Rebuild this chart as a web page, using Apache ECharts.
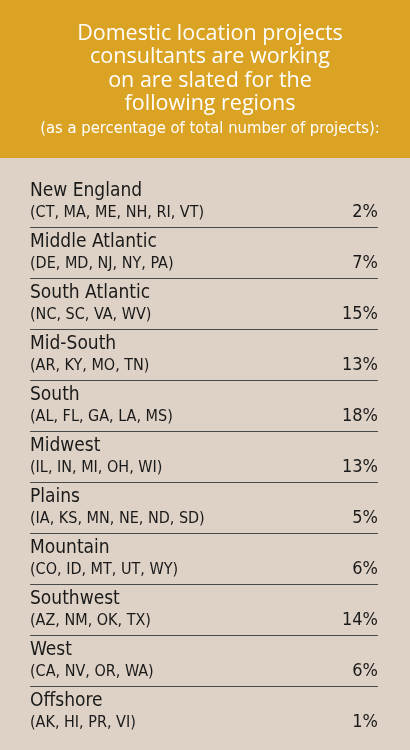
<!DOCTYPE html>
<html>
<head>
<meta charset="utf-8">
<script src="https://cdn.jsdelivr.net/npm/echarts@6/dist/echarts.min.js"></script>
<style>
html, body { margin: 0; padding: 0; background: #fff; }
#main { width: 410px; height: 750px; }
</style>
</head>
<body>
<div id="main"></div>
<script>
// regions, states and share of projects
var regions = ['New England', 'Middle Atlantic', 'South Atlantic', 'Mid-South', 'South', 'Midwest',
    'Plains', 'Mountain', 'Southwest', 'West', 'Offshore'];
var states = ['(CT, MA, ME, NH, RI, VT)', '(DE, MD, NJ, NY, PA)', '(NC, SC, VA, WV)', '(AR, KY, MO, TN)',
    '(AL, FL, GA, LA, MS)', '(IL, IN, MI, OH, WI)', '(IA, KS, MN, NE, ND, SD)', '(CO, ID, MT, UT, WY)',
    '(AZ, NM, OK, TX)', '(CA, NV, OR, WA)', '(AK, HI, PR, VI)'];
var shares = [2, 7, 15, 13, 18, 13, 5, 6, 14, 6, 1];

var font = '"Liberation Sans Narrow", "DejaVu Sans Condensed", sans-serif';
var bg = '#DED2C6';
var myChart = echarts.init(document.getElementById('main'));

var option = {
    backgroundColor: bg,
    graphic: [{
        type: 'rect', z: -1,
        shape: { x: 0, y: 0, width: 410, height: 158 },
        style: { fill: '#DBA324' }
    }, {
        // hide the bottom boundary line
        type: 'rect', z: 100,
        shape: { x: 0, y: 735, width: 410, height: 15 },
        style: { fill: bg }
    }],
    title: {
        text: 'Domestic location projects\nconsultants are working\non are slated for the\nfollowing regions',
        subtext: '(as a percentage of total number of projects):',
        left: 205, top: 17, itemGap: 4,
        textAlign: 'center',
        textStyle: { color: '#fff', fontSize: 21.5, fontWeight: 'normal', lineHeight: 23.5, fontFamily: '"Open Sans", sans-serif' },
        subtextStyle: { color: '#fff', fontSize: 16.5, fontFamily: font }
    },
    grid: { left: 30, right: 32, top: 176, height: 561 },
    xAxis: { type: 'value', show: false, max: 100 },
    yAxis: [{
        type: 'category', inverse: true, data: regions,
        axisLine: { show: false }, axisTick: { show: false },
        splitLine: {
            show: true,
            interval: function (i) { return i > 0; },
            lineStyle: { color: '#4a4a4a', width: 1 }
        },
        axisLabel: {
            inside: true, margin: 0,
            formatter: function (v, i) { return '{n|' + v + '}\n{s|' + states[i] + '}'; },
            rich: {
                n: { fontSize: 19, color: '#1a1a1a', fontFamily: font, lineHeight: 22 },
                s: { fontSize: 16, color: '#1a1a1a', fontFamily: font, lineHeight: 20 }
            }
        }
    }, {
        type: 'category', inverse: true, data: shares, position: 'right',
        axisLine: { show: false }, axisTick: { show: false },
        axisLabel: {
            inside: true, margin: 0,
            formatter: function (v) { return '{e| }\n{p|' + v + '%}'; },
            rich: {
                e: { fontSize: 19, lineHeight: 22 },
                p: { fontSize: 18, color: '#1a1a1a', fontFamily: font, lineHeight: 20 }
            }
        }
    }],
    series: [{
        type: 'bar', data: shares, yAxisIndex: 0,
        itemStyle: { color: 'rgba(0,0,0,0)' }, silent: true
    }]
};

myChart.setOption(option);
</script>
</body>
</html>
